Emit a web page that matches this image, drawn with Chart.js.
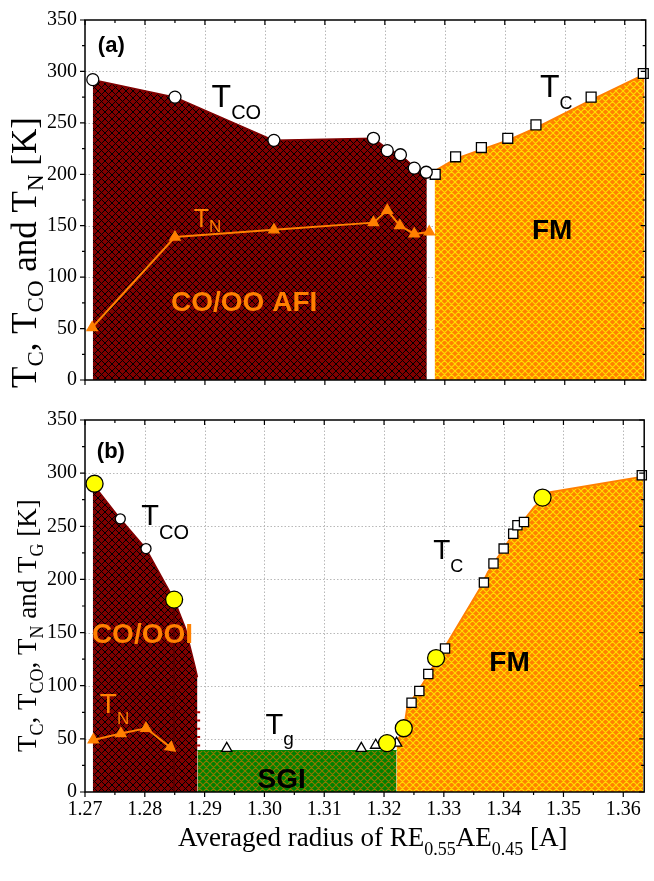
<!DOCTYPE html>
<html>
<head>
<meta charset="utf-8">
<script src="https://cdn.jsdelivr.net/npm/chart.js@4.4.1/dist/chart.umd.min.js"></script>
<style>
  html, body { margin: 0; padding: 0; background: #fff; }
  #wrap { position: relative; width: 654px; height: 881px; }
  #chartA { position: absolute; left: 0; top: 0; }
  #chartB { position: absolute; left: 0; top: 400px; }
</style>
</head>
<body>
<div id="wrap">
  <canvas id="chartA" width="654" height="400"></canvas>
  <canvas id="chartB" width="654" height="481"></canvas>
</div>
<script>
// axis ticks
const xMin = 1.27, xMax = 1.3635;
const xTicks = [1.27, 1.28, 1.29, 1.30, 1.31, 1.32, 1.33, 1.34, 1.35, 1.36];
const yTicks = [0, 50, 100, 150, 200, 250, 300, 350];

// panel (a)
const tcoA_x = [1.2713, 1.2850, 1.3015, 1.3181, 1.3204, 1.3226, 1.3249, 1.3269];
const tcoA_y = [292, 275, 233, 235, 223, 219, 206, 202];
const tcA_x = [1.3284, 1.3318, 1.3361, 1.3405, 1.3452, 1.3544, 1.3631];
const tcA_y = [200, 217, 226, 235, 248, 275, 298];
const tnA_x = [1.2712, 1.2850, 1.3015, 1.3181, 1.3204, 1.3225, 1.3249, 1.3274];
const tnA_y = [51, 139, 146, 153, 165, 150, 142, 144];
// phase boundaries (a)
const afiA_x = [1.2713, 1.2850, 1.3015, 1.3181, 1.3204, 1.3226, 1.3249, 1.3270];
const afiA_y = [292, 275, 233, 235, 225, 219, 207, 199];
const fmA_x = [1.3283, 1.3318, 1.3361, 1.3405, 1.3452, 1.3544, 1.3633];
const fmA_y = [203, 215, 224, 233, 245, 272, 297];

// panel (b)
const bigB_x = [1.2716, 1.2849, 1.3205, 1.3233, 1.3287, 1.3465];
const bigB_y = [290, 181, 46, 60, 126, 277];
const tcoB_x = [1.2759, 1.2802];
const tcoB_y = [257, 229];
const tcB_x = [1.3246, 1.3259, 1.3274, 1.3302, 1.3367, 1.3383, 1.3400, 1.3416, 1.3423, 1.3434, 1.3631];
const tcB_y = [84, 95, 111, 135, 197, 215, 229, 243, 251, 254, 298];
const tnB_x = [1.2714, 1.2760, 1.2802, 1.2843];
const tnB_y = [49, 55, 60, 42];
const tgB_x = [1.2937, 1.3162, 1.3186, 1.3221];
const tgB_y = [41, 41, 44, 46];
// phase boundaries (b)
const coB_x = [1.2713, 1.2759, 1.2802, 1.2849, 1.2868, 1.2884, 1.2888];
const coB_y = [290, 257, 229, 181, 154, 118, 108];
const sgiB_x = [1.2888, 1.3221];
const sgiB_y = [39, 39];
const fmB_x = [1.3221, 1.3233, 1.3239, 1.3264, 1.3308, 1.3360, 1.3374, 1.3418, 1.3451, 1.3478, 1.3625, 1.3633];
const fmB_y = [47, 58, 80, 101, 142, 191, 207, 244, 268, 282, 296, 298];
const seamB_x = [1.2849, 1.2849];
const seamB_y = [181, 0];
const dashB_x = [1.2890, 1.2890];
const dashB_y = [76, 41];

const pts = (xs, ys) => xs.map((x, i) => ({ x: x, y: ys[i] }));

// cross-hatch fill pattern, period p pixels
function hatch(ctx, bg, fg, lw, p) {
    const n = 2 * p;
    const c = document.createElement('canvas');
    c.width = n; c.height = n;
    const g = c.getContext('2d');
    g.fillStyle = bg;
    g.fillRect(0, 0, n, n);
    g.strokeStyle = fg;
    g.lineWidth = lw;
    g.beginPath();
    for (let k = -n; k <= 2 * n; k += p) {
        g.moveTo(k, 0); g.lineTo(k + n, n);
        g.moveTo(k, n); g.lineTo(k + n, 0);
    }
    g.stroke();
    return ctx.createPattern(c, 'repeat');
}

// draws text where parts starting with '_' are subscripts
function drawRich(ctx, parts, x, y, o) {
    let cx = x;
    ctx.textBaseline = 'alphabetic';
    ctx.textAlign = 'left';
    ctx.fillStyle = o.color || '#000';
    parts.forEach(p => {
        const sub = p.startsWith('_');
        const t = sub ? p.slice(1) : p;
        ctx.font = (o.weight || 'normal') + ' ' + (sub ? o.sub : o.size) + 'px ' + (o.family || '"Liberation Sans"');
        ctx.fillText(t, cx, y + (sub ? o.drop : 0));
        cx += ctx.measureText(t).width;
    });
}

const labelsA = [
    { x: 1.27214, y: 319, parts: ['(a)'], size: 22, weight: 'bold' },
    { x: 1.29111, y: 265.6, parts: ['T', '_CO'], size: 32, sub: 20, drop: 12 },
    { x: 1.34586, y: 274.9, parts: ['T', '_C'], size: 32, sub: 18, drop: 12 },
    { x: 1.28814, y: 148.3, parts: ['T', '_N'], size: 25, sub: 17, drop: 5, color: '#ff8000' },
    { x: 1.28435, y: 66.6, parts: ['CO/OO AFI'], size: 28, weight: 'bold', color: '#ff8000' },
    { x: 1.34454, y: 137, parts: ['FM'], size: 28, weight: 'bold' },
];
const labelsB = [
    { x: 1.27198, y: 314.5, parts: ['(b)'], size: 22, weight: 'bold' },
    { x: 1.2794, y: 251, parts: ['T', '_CO'], size: 29, sub: 20, drop: 14 },
    { x: 1.27115, y: 140, parts: ['CO/OOI'], size: 28, weight: 'bold', color: '#ff8000' },
    { x: 1.27247, y: 74.7, parts: ['T', '_N'], size: 28, sub: 17, drop: 11, color: '#ff8000' },
    { x: 1.30018, y: 55, parts: ['T', '_g'], size: 29, sub: 19, drop: 11 },
    { x: 1.29886, y: 3.7, parts: ['SGI'], size: 28, weight: 'bold' },
    { x: 1.32821, y: 219.3, parts: ['T', '_C'], size: 28, sub: 18, drop: 13 },
    { x: 1.33761, y: 113.9, parts: ['FM'], size: 28, weight: 'bold' },
];

function framePlugin(cfg) {
    return {
        id: 'frame',
        beforeDatasetsDraw(chart) {
            const { ctx, chartArea: a, scales: { x, y } } = chart;
            ctx.save();
            ctx.strokeStyle = '#b8b8b8';
            ctx.lineWidth = 1;
            ctx.setLineDash([1.5, 2]);
            ctx.beginPath();
            xTicks.slice(1).forEach(v => {
                const px = Math.round(x.getPixelForValue(v)) + 0.5;
                ctx.moveTo(px, a.top); ctx.lineTo(px, a.bottom);
            });
            yTicks.slice(1, -1).forEach(v => {
                const py = Math.round(y.getPixelForValue(v)) + 0.5;
                ctx.moveTo(a.left, py); ctx.lineTo(a.right, py);
            });
            ctx.stroke();
            ctx.restore();
        },
        afterDatasetsDraw(chart) {
            const { ctx, chartArea: a, scales: { x, y } } = chart;
            ctx.save();
            ctx.strokeStyle = '#000';
            ctx.lineWidth = 1.5;
            ctx.strokeRect(a.left, a.top, a.right - a.left, a.bottom - a.top);
            ctx.lineWidth = 1.2;
            ctx.beginPath();
            const tick = (x1, y1, x2, y2) => { ctx.moveTo(x1, y1); ctx.lineTo(x2, y2); };
            xTicks.forEach(v => {
                [[v, 5], [v + 0.005, 3]].forEach(([t, len]) => {
                    if (t > xMax) return;
                    const px = x.getPixelForValue(t);
                    tick(px, a.bottom, px, a.bottom + len);
                    tick(px, a.top, px, a.top + len);
                });
            });
            yTicks.forEach(v => {
                [[v, 5], [v + 25, 3]].forEach(([t, len]) => {
                    if (t > 350) return;
                    const py = y.getPixelForValue(t);
                    tick(a.left - len, py, a.left, py);
                    tick(a.right - len, py, a.right, py);
                });
            });
            ctx.stroke();

            cfg.labels.forEach(l => {
                drawRich(ctx, l.parts, x.getPixelForValue(l.x), y.getPixelForValue(l.y), l);
            });

            ctx.translate(cfg.yTitleX, cfg.yTitleY);
            ctx.rotate(-Math.PI / 2);
            drawRich(ctx, cfg.yTitle, 0, 0, { size: cfg.yTitleSize, sub: cfg.yTitleSub, drop: 7, family: '"Liberation Serif"' });
            ctx.restore();

            if (cfg.xTitle) {
                ctx.save();
                drawRich(ctx, cfg.xTitle, 178, cfg.xTitleY, { size: 27, sub: 18, drop: 9, family: '"Liberation Serif"' });
                ctx.restore();
            }
        }
    };
}

function markers(data, style, radius, fill, border, extra) {
    return Object.assign({
        data: data, showLine: false, pointStyle: style, pointRadius: radius,
        pointBackgroundColor: fill, pointBorderColor: border, pointBorderWidth: 1.3,
        clip: false, order: 0
    }, extra || {});
}

function area(data, pattern, border, width) {
    return {
        data: data, fill: 'origin', backgroundColor: pattern, borderColor: border,
        borderWidth: width, pointRadius: 0, order: 3
    };
}

function scales(showX, xHeight) {
    const tickFont = { family: '"Liberation Serif"', size: 20 };
    return {
        x: {
            type: 'linear', min: xMin, max: xMax,
            afterBuildTicks: s => { s.ticks = xTicks.map(v => ({ value: v })); },
            ticks: { display: showX, font: tickFont, color: '#000', padding: 6, maxRotation: 0, callback: v => v.toFixed(2) },
            grid: { display: false, drawTicks: false },
            border: { display: false },
            afterFit: s => { s.height = xHeight; s.paddingLeft = 0; s.paddingRight = 0; }
        },
        y: {
            type: 'linear', min: 0, max: 350,
            afterBuildTicks: s => { s.ticks = yTicks.map(v => ({ value: v })); },
            ticks: { font: tickFont, color: '#000', padding: 8 },
            grid: { display: false, drawTicks: false },
            border: { display: false },
            afterFit: s => { s.width = 85; }
        }
    };
}

const common = {
    responsive: false,
    animation: false,
    events: [],
    plugins: { legend: { display: false }, tooltip: { enabled: false } },
};

// panel (a)
const ctxA = document.getElementById('chartA').getContext('2d');
new Chart(ctxA, {
    type: 'line',
    data: {
        datasets: [
            markers(pts(tcoA_x, tcoA_y), 'circle', 6, '#fff', '#000'),
            markers(pts(tcA_x, tcA_y), 'rect', 7, '#fff', '#000'),
            markers(pts(tnA_x, tnA_y), 'triangle', 6, '#ff8000', '#ff8000',
                { showLine: true, borderColor: '#ff8000', borderWidth: 2, order: 1 }),
            area(pts(afiA_x, afiA_y), hatch(ctxA, '#800000', '#000', 1, 7), '#800000', 1.5),
            area(pts(fmA_x, fmA_y), hatch(ctxA, '#ff8000', '#ffdd00', 1.1, 7), '#ff8000', 2),
        ]
    },
    options: Object.assign({}, common, {
        layout: { padding: { top: 15, right: 2, left: 0, bottom: 0 } },
        scales: scales(false, 12),
    }),
    plugins: [framePlugin({
        labels: labelsA,
        yTitle: ['T', '_C', ', T', '_CO', ' and T', '_N', ' [K]'],
        yTitleX: 36, yTitleY: 388, yTitleSize: 35, yTitleSub: 23
    })]
});

// panel (b)
const ctxB = document.getElementById('chartB').getContext('2d');
new Chart(ctxB, {
    type: 'line',
    data: {
        datasets: [
            markers(pts(bigB_x, bigB_y), 'circle', 8.5, '#ffff00', '#000'),
            markers(pts(tcoB_x, tcoB_y), 'circle', 5, '#fff', '#000'),
            markers(pts(tcB_x, tcB_y), 'rect', 6.5, '#fff', '#000'),
            markers(pts(tgB_x, tgB_y), 'triangle', 6, '#fff', '#000'),
            markers(pts(tnB_x, tnB_y), 'triangle', 6, '#ff8000', '#ff8000',
                { showLine: true, borderColor: '#ff8000', borderWidth: 2, order: 1, pointRotation: [0, 0, 0, 128] }),
            { data: pts(seamB_x, seamB_y), borderColor: '#5a0000', borderWidth: 1, pointRadius: 0, order: 2 },
            { data: pts(dashB_x, dashB_y), borderColor: '#b00000', borderWidth: 3, borderDash: [2, 6.3], pointRadius: 0, order: 2 },
            area(pts(coB_x, coB_y), hatch(ctxB, '#800000', '#000', 1, 7), '#800000', 1.5),
            area(pts(sgiB_x, sgiB_y), hatch(ctxB, '#008000', '#8a7a00', 1.1, 7), '#008000', 1),
            area(pts(fmB_x, fmB_y), hatch(ctxB, '#ff8000', '#ffdd00', 1.1, 7), '#ff8000', 2),
        ]
    },
    options: Object.assign({}, common, {
        layout: { padding: { top: 17, right: 2, left: 0, bottom: 0 } },
        scales: scales(true, 89),
    }),
    plugins: [framePlugin({
        labels: labelsB,
        yTitle: ['T', '_C', ', T', '_CO', ', T', '_N', ' and T', '_G', ' [K]'],
        yTitleX: 36, yTitleY: 352, yTitleSize: 27, yTitleSub: 18,
        xTitle: ['Averaged radius of RE', '_0.55', 'AE', '_0.45', ' [A]'],
        xTitleY: 446
    })]
});
</script>
</body>
</html>
